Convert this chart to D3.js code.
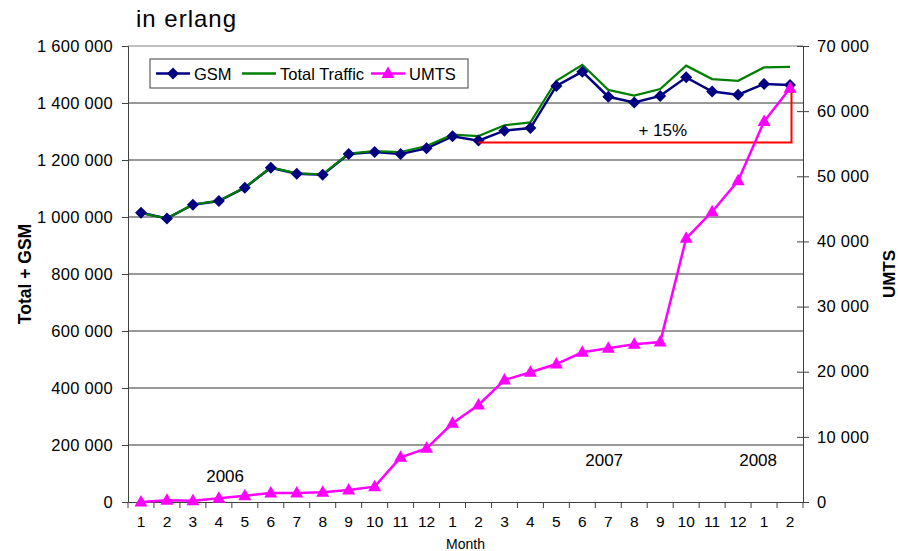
<!DOCTYPE html>
<html>
<head>
<meta charset="utf-8">
<script src="https://cdn.jsdelivr.net/npm/d3@7"></script>
<style>
  body { margin: 0; background: #fff; }
  svg text { font-family: "Liberation Sans", Arial, sans-serif; }
</style>
</head>
<body>
<div id="chart"></div>
<script>
// months 2006-01 .. 2008-02
var months = ["1","2","3","4","5","6","7","8","9","10","11","12",
              "1","2","3","4","5","6","7","8","9","10","11","12",
              "1","2"];
var gsm = [1015000, 995000, 1043000, 1056000, 1103000, 1173000, 1152000, 1148000, 1221000, 1228000, 1221000, 1241000,
           1283000, 1268000, 1303000, 1312000, 1460000, 1510000, 1422000, 1402000, 1425000, 1490000, 1440000, 1429000,
           1467000, 1463000];
var total = [1013000, 995000, 1044000, 1057000, 1104000, 1174000, 1153000, 1150000, 1223000, 1231000, 1228000, 1249000,
             1289000, 1284000, 1322000, 1332000, 1478000, 1534000, 1446000, 1426000, 1449000, 1531000, 1484000, 1478000,
             1525000, 1527000];
var umts = [0, 250, 200, 570, 970, 1380, 1380, 1490, 1840, 2350, 6860, 8240,
            12080, 14890, 18730, 19910, 21180, 22990, 23590, 24210, 24560, 40480, 44560, 49320,
            58400, 63500];
var leftTicks = [0, 200000, 400000, 600000, 800000, 1000000, 1200000, 1400000, 1600000];
var rightTicks = [0, 10000, 20000, 30000, 40000, 50000, 60000, 70000];
var years = [{label: "2006", at: 3.74, y: 70000}, {label: "2007", at: 18.34, y: 126000}, {label: "2008", at: 24.27, y: 126000}];

var width = 898, height = 551;
var margin = {left: 128, right: 95, top: 46, bottom: 49};
var innerW = width - margin.left - margin.right;
var innerH = height - margin.top - margin.bottom;

var svg = d3.select("#chart").append("svg")
    .attr("width", width)
    .attr("height", height);

var g = svg.append("g").attr("transform", "translate(" + margin.left + "," + margin.top + ")");

var idx = d3.range(months.length);
var x = d3.scaleBand().domain(idx).range([0, innerW]);
var cx = function (i) { return x(i) + x.bandwidth() / 2; };
var yL = d3.scaleLinear().domain([0, 1600000]).range([innerH, 0]);
var yR = d3.scaleLinear().domain([0, 70000]).range([innerH, 0]);

// excel style thousands separator
var fmt = d3.formatLocale({decimal: ",", thousands: "\u00a0", grouping: [3], currency: ["", ""]}).format(",");

// gridlines
g.selectAll(".grid")
    .data(leftTicks.slice(1))
    .enter()
    .append("line")
    .attr("x1", 0).attr("x2", innerW)
    .attr("y1", function (d) { return yL(d); })
    .attr("y2", function (d) { return yL(d); })
    .style("stroke-width", 1)
    .style("stroke", function (d) { return d == 1600000 ? "#808080" : "#333"; });

// left axis
var axL = g.append("g").call(d3.axisLeft(yL).tickValues(leftTicks).tickFormat(fmt).tickSize(6).tickPadding(9));
axL.selectAll("text").style("font-size", "16.5px").style("letter-spacing", "0.3px").style("fill", "#000");
axL.selectAll("line, path").style("stroke", "#404040");

// right axis
var axR = g.append("g").attr("transform", "translate(" + innerW + ",0)")
    .call(d3.axisRight(yR).tickValues(rightTicks).tickFormat(fmt).tickSize(6).tickPadding(8));
axR.selectAll(".tick line").attr("x1", -6);
axR.selectAll("text").style("font-size", "16.5px").style("letter-spacing", "0.3px").style("fill", "#000");
axR.selectAll("line, path").style("stroke", "#404040");

// bottom axis
var axB = g.append("g").attr("transform", "translate(0," + innerH + ")")
    .call(d3.axisBottom(x).tickFormat(function (i) { return months[i]; }).tickSize(0).tickPadding(14));
axB.selectAll("text").style("font-size", "15.5px").style("fill", "#000");
axB.select("path").style("stroke", "#404040");
axB.selectAll(".sep")
    .data(d3.range(months.length + 1))
    .enter()
    .append("line")
    .attr("x1", function (i) { return i * x.step(); })
    .attr("x2", function (i) { return i * x.step(); })
    .attr("y1", 0).attr("y2", 6)
    .style("stroke", "#404040");

// axis titles
svg.append("text")
    .attr("transform", "translate(31," + (margin.top + innerH / 2) + ") rotate(-90)")
    .attr("text-anchor", "middle")
    .style("font-size", "17.5px").style("font-weight", "bold")
    .text("Total + GSM");
svg.append("text")
    .attr("transform", "translate(894.5," + (margin.top + innerH / 2) + ") rotate(-90)")
    .attr("text-anchor", "middle")
    .style("font-size", "17px").style("font-weight", "bold")
    .text("UMTS");
svg.append("text")
    .attr("x", margin.left + x.step() * 13).attr("y", 549)
    .attr("text-anchor", "middle")
    .style("font-size", "14px")
    .text("Month");
svg.append("text")
    .attr("x", 136).attr("y", 27)
    .style("font-size", "24px")
    .style("letter-spacing", "1px")
    .text("in erlang");

// year labels
g.selectAll(".year")
    .data(years)
    .enter()
    .append("text")
    .attr("x", function (d) { return d.at * x.step(); })
    .attr("y", function (d) { return yL(d.y); })
    .attr("text-anchor", "middle")
    .style("font-size", "17px")
    .text(function (d) { return d.label; });

// lines
var lineL = function (arr) {
    return d3.line().x(function (d, i) { return cx(i); }).y(function (d) { return yL(d); })(arr);
};
var lineR = d3.line().x(function (d, i) { return cx(i); }).y(function (d) { return yR(d); });

g.append("path").attr("d", lineL(gsm))
    .style("fill", "none").style("stroke", "#000080").style("stroke-width", 2.5);
g.append("path").attr("d", lineL(total))
    .style("fill", "none").style("stroke", "#008000").style("stroke-width", 2.2);

g.selectAll(".gsm")
    .data(gsm)
    .enter()
    .append("path")
    .attr("transform", function (d, i) { return "translate(" + cx(i) + "," + yL(d) + ")"; })
    .attr("d", "M0,-6L6,0L0,6L-6,0Z")
    .style("fill", "#000080");

// red annotation
var i0 = 13, i1 = months.length - 1;
var baseY = yL(gsm[i0]) + 2;
var topY = yL(gsm[i0] * 1.15) - 4;
var xr = cx(i1) + 1.5;
g.append("path")
    .attr("d", "M" + cx(i0) + "," + baseY + "H" + xr + "V" + (topY + 8))
    .style("fill", "none").style("stroke", "#ff0000").style("stroke-width", 2);
g.append("path")
    .attr("d", "M" + xr + "," + topY + "L" + (xr + 4) + "," + (topY + 10) + "L" + (xr - 4) + "," + (topY + 10) + "Z")
    .style("fill", "#ff0000");
g.append("text")
    .attr("x", x.step() * 20.6).attr("y", baseY - 7)
    .attr("text-anchor", "middle")
    .style("font-size", "17px")
    .text("+ 15%");

g.append("path").attr("d", lineR(umts))
    .style("fill", "none").style("stroke", "#ff00ff").style("stroke-width", 2.5);
g.selectAll(".umts")
    .data(umts)
    .enter()
    .append("path")
    .attr("transform", function (d, i) { return "translate(" + cx(i) + "," + yR(d) + ")"; })
    .attr("d", "M0,-7L6.5,4.5L-6.5,4.5Z")
    .style("fill", "#ff00ff");

// legend
var lg = svg.append("g").attr("transform", "translate(150,59)");
lg.append("rect").attr("width", 318).attr("height", 29)
    .style("fill", "#fff").style("stroke", "#404040");
var legendItems = [
    {name: "GSM", color: "#000080", x: 6, marker: "M0,-6L6,0L0,6L-6,0Z"},
    {name: "Total Traffic", color: "#008000", x: 92, marker: null},
    {name: "UMTS", color: "#ff00ff", x: 221, marker: "M0,-7L6.5,4.5L-6.5,4.5Z"}
];
var li = lg.selectAll(".li").data(legendItems).enter().append("g")
    .attr("transform", function (d) { return "translate(" + d.x + ",14.5)"; });
li.append("line").attr("x1", 0).attr("x2", 34)
    .style("stroke", function (d) { return d.color; }).style("stroke-width", 2.5);
li.filter(function (d) { return d.marker; }).append("path")
    .attr("transform", "translate(17,0)")
    .attr("d", function (d) { return d.marker; })
    .style("fill", function (d) { return d.color; });
li.append("text").attr("x", 38).attr("y", 6)
    .style("font-size", "16.5px")
    .text(function (d) { return d.name; });
</script>
</body>
</html>
